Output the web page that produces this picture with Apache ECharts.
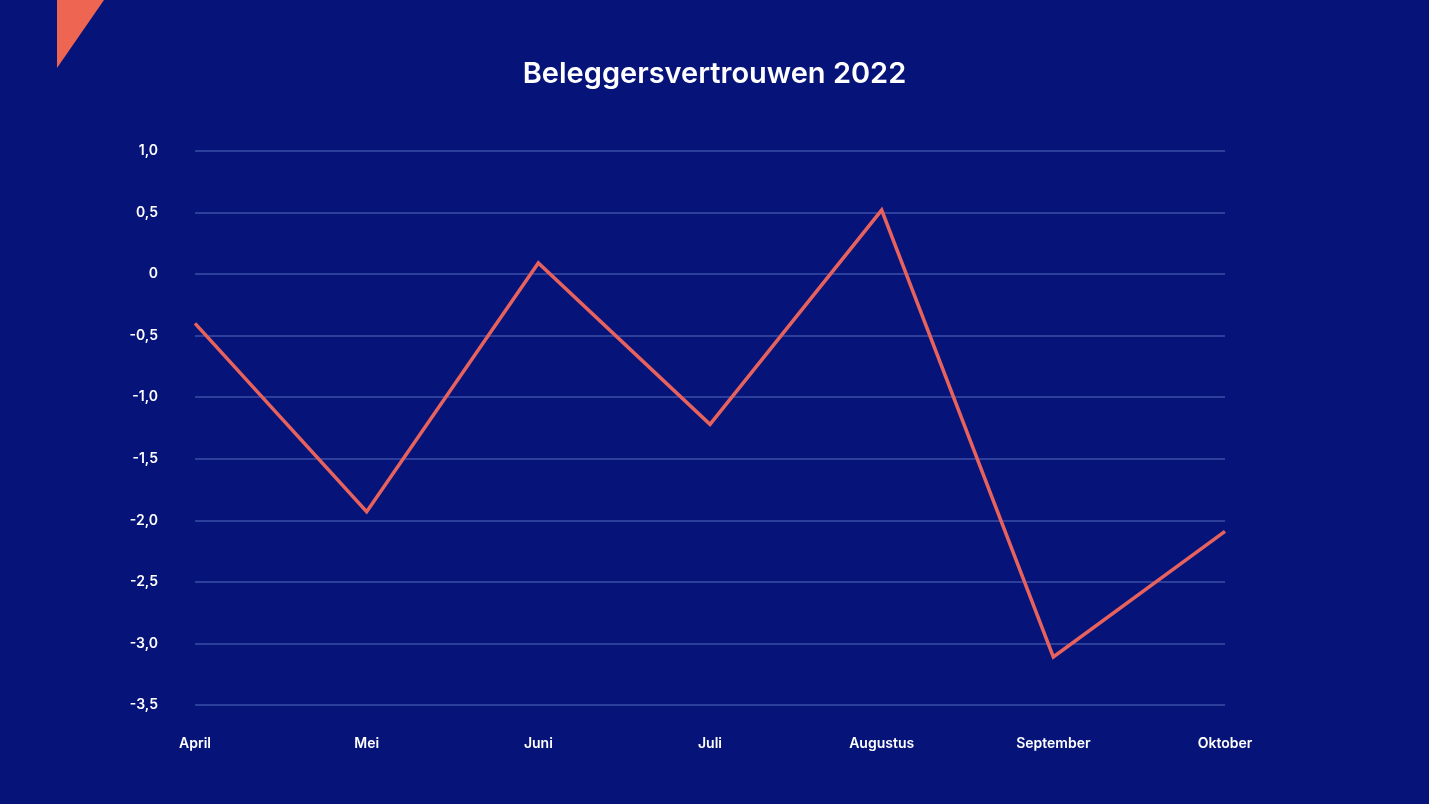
<!DOCTYPE html>
<html>
<head>
<meta charset="utf-8">
<script src="https://cdn.jsdelivr.net/npm/echarts@6/dist/echarts.min.js"></script>
<style>
  html, body { margin: 0; padding: 0; background: #06147a; }
  #chart { width: 1429px; height: 804px; }
</style>
</head>
<body>
<div id="chart"></div>
<script>
const months = ['April', 'Mei', 'Juni', 'Juli', 'Augustus', 'September', 'Oktober'];
const confidence = [-0.4, -1.93, 0.09, -1.22, 0.52, -3.11, -2.09];

const chart = echarts.init(document.getElementById('chart'));
const option = {
    backgroundColor: '#06147a',
    textStyle: { fontFamily: 'Inter, sans-serif' },
    title: {
        text: 'Beleggersvertrouwen 2022',
        left: 'center',
        top: 55,
        textStyle: { color: '#fff', fontSize: 29, fontWeight: 600 }
    },
    graphic: [{
        type: 'polygon',
        shape: { points: [[57, 0], [104, 0], [57, 68]] },
        style: { fill: '#ee6552' }
    }],
    grid: { left: 195, right: 204, top: 151, bottom: 99 },
    xAxis: {
        type: 'category',
        data: months,
        boundaryGap: false,
        axisLine: { show: false },
        axisTick: { show: false },
        axisLabel: { color: '#fff', fontSize: 14, fontWeight: 600, margin: 32 }
    },
    yAxis: {
        type: 'value',
        min: -3.5,
        max: 1,
        interval: 0.5,
        axisLine: { show: false },
        axisTick: { show: false },
        axisLabel: {
            color: '#fff',
            fontSize: 14,
            fontWeight: 600,
            margin: 37,
            formatter: function (v) {
                if (v === 0) return '0';
                return v.toFixed(1).replace('.', ',');
            }
        },
        splitLine: { lineStyle: { color: '#3a4ea6', width: 1.5 } }
    },
    series: [{
        type: 'line',
        data: confidence,
        showSymbol: false,
        lineStyle: { color: '#e8625d', width: 3.5, join: 'miter' },
        itemStyle: { color: '#e8625d' },
        animation: false
    }]
};
chart.setOption(option);
</script>
</body>
</html>
